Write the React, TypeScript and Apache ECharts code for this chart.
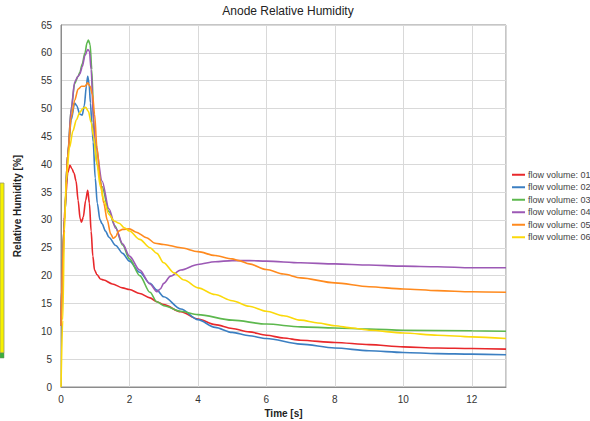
import React, { useEffect, useRef } from "react";
import * as echarts from "echarts";

const seriesNames = [
  "flow volume: 01",
  "flow volume: 02",
  "flow volume: 03",
  "flow volume: 04",
  "flow volume: 05",
  "flow volume: 06",
];

const colors = ["#e8282b", "#3b7fc2", "#5db84e", "#9c59b5", "#ff8a1e", "#fbd90a"];

const xTicks = [0, 2, 4, 6, 8, 10, 12];

const flow01: number[][] = [
  [0, 11], [0.05, 22], [0.12, 33], [0.2, 38.5], [0.26, 39.8], [0.32, 39.2], [0.38, 38.4],
  [0.44, 37], [0.5, 33.5], [0.56, 30.2], [0.6, 29.6], [0.65, 30.5], [0.72, 33.5], [0.78, 35.3],
  [0.83, 33], [0.88, 28], [0.93, 23.5], [0.98, 21], [1.05, 20.2], [1.15, 19.4], [1.25, 19.2],
  [1.5, 18.5], [1.8, 17.8], [2.0, 17.5], [2.3, 16.8], [2.6, 16], [2.8, 15.3], [3.0, 14.8],
  [3.5, 13.5], [4, 12.2], [4.5, 11.2], [5, 10.5], [5.5, 9.9], [6, 9.3], [6.5, 8.8], [7, 8.4],
  [8, 8.0], [9, 7.6], [10, 7.2], [11, 7.0], [12, 6.9], [13, 6.8],
];

const flow02: number[][] = [
  [0, 11], [0.1, 30], [0.2, 42], [0.3, 48], [0.4, 51], [0.46, 50.5], [0.55, 49], [0.62, 48.8],
  [0.68, 50.5], [0.74, 54], [0.78, 55.8], [0.82, 54.5], [0.86, 51], [0.9, 47.5], [0.94, 44],
  [1.0, 37.5], [1.06, 33], [1.14, 30], [1.2, 29.3], [1.3, 28], [1.4, 26.9], [1.6, 25.4],
  [1.8, 24], [2.0, 22.6], [2.3, 20.6], [2.6, 18.6], [2.8, 17.4], [3.0, 16.2], [3.5, 14],
  [4, 12.1], [4.5, 10.7], [5, 9.8], [5.5, 9.2], [6, 8.7], [7, 7.7], [8, 7.0], [9, 6.5],
  [10, 6.2], [11, 6.0], [12, 5.9], [13, 5.8],
];

const flow03: number[][] = [
  [0, 11], [0.1, 30], [0.2, 42], [0.3, 50], [0.4, 54.5], [0.5, 55.8], [0.55, 56.5],
  [0.62, 58], [0.7, 60], [0.76, 61.8], [0.8, 62.3], [0.85, 61.5], [0.9, 57], [0.97, 45],
  [1.05, 40], [1.2, 36], [1.4, 31.5], [1.57, 29], [1.8, 25.5], [2, 23], [2.3, 20],
  [2.6, 17], [2.8, 15.3], [3.0, 14.6], [3.5, 13.6], [4, 13.0], [5, 12.0], [6, 11.3],
  [7, 10.8], [8, 10.6], [9, 10.4], [10, 10.2], [12, 10.1], [13, 10.0],
];

const flow04: number[][] = [
  [0, 11], [0.1, 30], [0.2, 42], [0.3, 50], [0.4, 54.8], [0.5, 55.8], [0.55, 56.2],
  [0.62, 57.5], [0.7, 59.5], [0.78, 60.6], [0.83, 60.3], [0.88, 57], [0.95, 48], [1.0, 44],
  [1.2, 37], [1.4, 32], [1.6, 28.5], [1.8, 25.7], [2.0, 23.5], [2.3, 21], [2.6, 18.5],
  [2.8, 17.1], [2.9, 17.6], [3.0, 18.6], [3.2, 19.9], [3.5, 21], [4, 22], [4.5, 22.5],
  [5, 22.7], [5.5, 22.7], [6, 22.6], [7, 22.3], [8, 22.1], [9, 21.9], [10, 21.7],
  [11, 21.6], [12, 21.4], [13, 21.4],
];

const flow05: number[][] = [
  [0, 11], [0.1, 30], [0.2, 42], [0.3, 48.5], [0.4, 51.5], [0.5, 53.5], [0.6, 54], [0.7, 54],
  [0.78, 54.6], [0.85, 54], [0.92, 52.5], [0.98, 49], [1.05, 43], [1.15, 37], [1.25, 33],
  [1.35, 30], [1.45, 27.5], [1.53, 26.7], [1.6, 27], [1.68, 28], [1.8, 28.3], [2, 28.4],
  [2.2, 27.8], [2.5, 26.8], [2.75, 25.8], [3, 25.6], [3.5, 25], [4, 24.3], [4.5, 23.6],
  [5, 23], [5.2, 22.7], [5.5, 22.1], [6, 21.1], [6.5, 20.3], [7, 19.6], [8, 18.7], [9, 18],
  [10, 17.6], [11, 17.3], [12, 17.1], [13, 17],
];

const flow06: number[][] = [
  [0, 0], [0.05, 12], [0.1, 28], [0.15, 37], [0.25, 43], [0.35, 46], [0.45, 48], [0.55, 49.3],
  [0.65, 50.1], [0.72, 50.2], [0.8, 49.5], [0.88, 47.5], [0.95, 45], [1.05, 40], [1.15, 36],
  [1.25, 33.5], [1.4, 31], [1.55, 29.8], [1.7, 29.4], [1.85, 28.6], [2, 28], [2.3, 26.5],
  [2.6, 25], [2.8, 24], [3.0, 22.3], [3.3, 20.5], [3.6, 19.2], [4, 17.8], [4.5, 16.6],
  [5, 15.5], [5.5, 14.5], [6, 13.6], [6.5, 12.8], [7, 12], [7.5, 11.5], [8, 11], [8.5, 10.6],
  [9, 10.2], [10, 9.7], [11, 9.3], [12, 9.0], [13, 8.7],
];

const allData = [flow01, flow02, flow03, flow04, flow05, flow06];

export default function App() {
  const ref = useRef<HTMLDivElement>(null);
  useEffect(() => {
    if (!ref.current) return;
    const chart = echarts.init(ref.current, null, { renderer: "svg" });
    const font = "Liberation Sans, Arial, sans-serif";
    chart.setOption({
      animation: false,
      backgroundColor: "#ffffff",
      title: {
        text: "Anode Relative Humidity",
        left: 283,
        textAlign: "center",
        top: 0,
        textStyle: { fontSize: 12, fontWeight: "normal", color: "#222", fontFamily: font },
      },
      legend: {
        orient: "vertical",
        left: 512,
        top: 169,
        padding: 0,
        data: seriesNames,
        icon: "rect",
        itemWidth: 13,
        itemHeight: 2,
        itemGap: 1,
        textStyle: {
          fontSize: 9,
          color: "#444",
          fontFamily: font,
          lineHeight: 11.5,
          width: 70,
          overflow: "none",
          padding: [0, 0, 0, -2],
        },
      },
      grid: {
        left: 61,
        right: 84,
        top: 25,
        bottom: 34,
        show: true,
        borderColor: "#8c8c8c",
        borderWidth: 1,
        outerBoundsMode: "none",
      },
      xAxis: {
        type: "value",
        min: 0,
        max: 13,
        interval: 2,
        name: "Time [s]",
        nameLocation: "middle",
        nameGap: 21,
        nameTextStyle: { fontSize: 10, fontWeight: "bold", color: "#222", fontFamily: font },
        axisLine: { lineStyle: { color: "#8c8c8c" } },
        axisTick: { show: false },
        axisLabel: {
          fontSize: 10,
          color: "#333",
          fontFamily: font,
          margin: 7,
          formatter: (v: number) => (xTicks.indexOf(v) >= 0 ? String(v) : ""),
        },
        splitLine: { lineStyle: { color: "#d9d9d9" } },
      },
      yAxis: {
        type: "value",
        min: 0,
        max: 65,
        interval: 5,
        name: "Relative Humidity [%]",
        nameLocation: "middle",
        nameGap: 39,
        nameTextStyle: { fontSize: 10, fontWeight: "bold", color: "#222", fontFamily: font },
        axisLine: { show: true, lineStyle: { color: "#8c8c8c" } },
        axisTick: { show: false },
        axisLabel: { fontSize: 10, color: "#333", fontFamily: font, margin: 9 },
        splitLine: { lineStyle: { color: "#d9d9d9" } },
      },
      graphic: [
        {
          type: "rect",
          shape: { x: 0, y: 183, width: 4, height: 170 },
          style: { fill: "#f7f200", stroke: "#9a9a6a", lineWidth: 0.8 },
        },
        {
          type: "rect",
          shape: { x: 0, y: 353, width: 4, height: 5 },
          style: { fill: "#3bb03b", stroke: "#6a8a6a", lineWidth: 0.5 },
        },
      ],
      series: allData.map((d, i) => ({
        name: seriesNames[i],
        type: "line",
        data: d,
        showSymbol: false,
        symbol: "none",
        smooth: 0.3,
        smoothMonotone: "x",
        lineStyle: { width: 1.6, color: colors[i] },
        itemStyle: { color: colors[i] },
      })),
    });
    return () => chart.dispose();
  }, []);
  return <div ref={ref} style={{ width: 590, height: 421, position: "absolute", left: 0, top: 0 }} />;
}
